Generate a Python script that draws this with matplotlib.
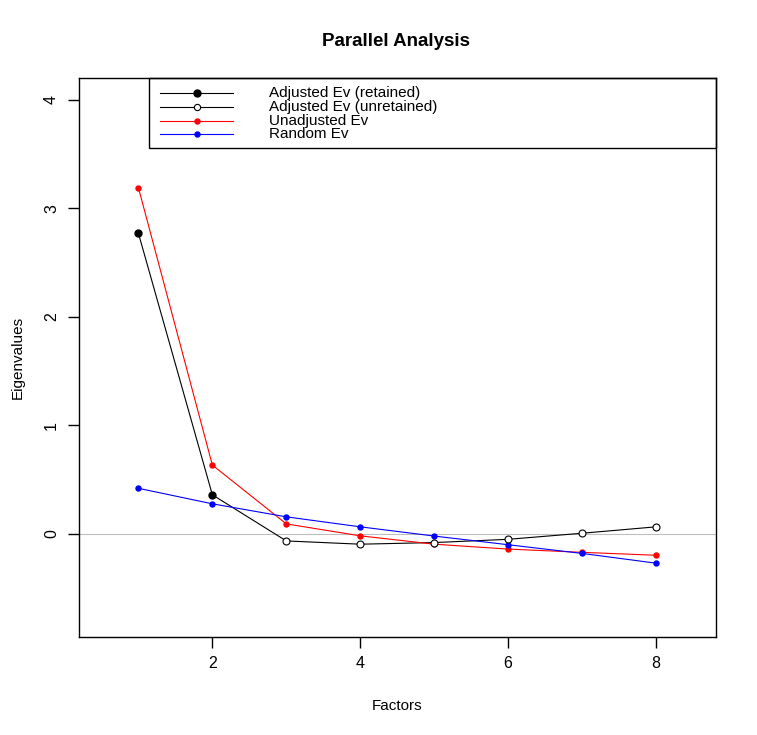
import matplotlib
matplotlib.use("Agg")
import matplotlib.pyplot as plt
from matplotlib.patches import Rectangle
from matplotlib.lines import Line2D

plt.rcParams['font.family'] = ['Liberation Sans', 'DejaVu Sans']

factors = [1, 2, 3, 4, 5, 6, 7, 8]
adjusted = [2.77, 0.36, -0.065, -0.095, -0.08, -0.05, 0.006, 0.065]
unadjusted = [3.19, 0.634, 0.092, -0.018, -0.095, -0.14, -0.17, -0.197]
random_ev = [0.42, 0.277, 0.157, 0.065, -0.02, -0.10, -0.18, -0.27]
n_retained = 2

legend_labels = ["Adjusted Ev (retained)", "Adjusted Ev (unretained)",
                 "Unadjusted Ev", "Random Ev"]

W, H = 757, 735
fig = plt.figure(figsize=(W / 100, H / 100), dpi=100)
ax = fig.add_axes([78.5 / W, (H - 637) / H, (716 - 78.5) / W, (637 - 78) / H])

ax.axhline(0, color="#bebebe", lw=0.8, zorder=1)
ax.plot(factors, adjusted, color="black", lw=0.8, zorder=2)
ax.plot(factors, unadjusted, color="red", lw=0.8, marker="o", ms=3.6, zorder=3)
ax.plot(factors, random_ev, color="blue", lw=0.8, marker="o", ms=3.6, zorder=3)
ax.plot(factors[:n_retained], adjusted[:n_retained], ls="none", marker="o",
        ms=5, color="black", zorder=4)
ax.plot(factors[n_retained:], adjusted[n_retained:], ls="none", marker="o",
        ms=5, mfc="white", mec="black", mew=0.8, zorder=4)

ax.set_xlim(0.19, 8.81)
ax.set_ylim(-0.95, 4.2)
ax.set_xticks([2, 4, 6, 8])
ax.set_yticks([0, 1, 2, 3, 4])
ax.tick_params(length=8, width=1, labelsize=11.5, pad=6)
for lab in ax.get_yticklabels():
    lab.set_rotation(90)
    lab.set_va("center")
for sp in ax.spines.values():
    sp.set_linewidth(1)

ax.set_xlabel("Factors", fontsize=11, labelpad=20)
ax.set_ylabel("Eigenvalues", fontsize=11, labelpad=14)
fig.text(396 / W, 1 - 41 / H, "Parallel Analysis", ha="center", va="center",
         fontsize=13.5, fontweight="bold")

# legend box drawn in axes coords, like R's legend("topright")
def ax_x(px):
    return (px - 78.5) / (716 - 78.5)

def ax_y(py):
    return (637 - py) / (637 - 78)

ax.add_patch(Rectangle((ax_x(149), ax_y(148)), ax_x(716) - ax_x(149),
                       ax_y(78) - ax_y(148), transform=ax.transAxes,
                       fill=False, edgecolor="black", lw=1, clip_on=False, zorder=5))
rows_y = [93, 107, 121, 134]
styles = [dict(color="black", marker="o", ms=5),
          dict(color="black", marker="o", ms=4.5, mfc="white", mew=0.8),
          dict(color="red", marker="o", ms=3.6),
          dict(color="blue", marker="o", ms=3.6)]
for py, lab, st in zip(rows_y, legend_labels, styles):
    ax.add_line(Line2D([ax_x(160), ax_x(233)], [ax_y(py), ax_y(py)], lw=0.8,
                       transform=ax.transAxes, clip_on=False, zorder=5,
                       color=st["color"]))
    ax.add_line(Line2D([ax_x(197)], [ax_y(py)], transform=ax.transAxes,
                       clip_on=False, zorder=6, ls="none", **st))
    ax.text(ax_x(269), ax_y(py), lab, transform=ax.transAxes, fontsize=11,
            va="center", ha="left")

fig.savefig("out.png", dpi=100)
